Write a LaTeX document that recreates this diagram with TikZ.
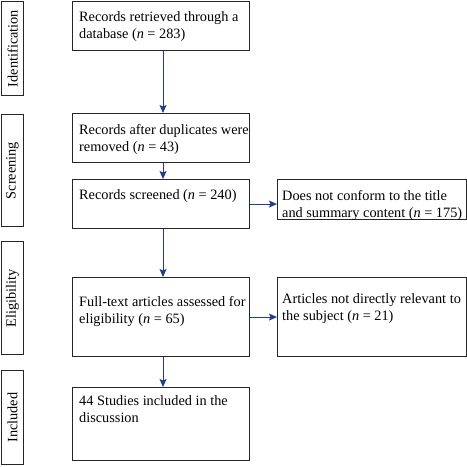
\documentclass[tikz,border=0pt]{standalone}
\usepackage{fontspec}
\setmainfont{Liberation Serif}
\usetikzlibrary{arrows.meta,calc}
\begin{document}
\begin{tikzpicture}[x=1pt,y=-1pt,
  box/.style={draw=black!85,line width=1.1pt,rectangle,inner sep=0pt,anchor=north west},
  side/.style={draw=black!85,line width=1.1pt,rectangle,inner sep=0pt,anchor=north west},
  txt/.style={anchor=base west,inner sep=0pt,align=left,font=\fontsize{14.3}{17}\selectfont},
  sidetxt/.style={rotate=90,inner sep=0pt,font=\fontsize{14.3}{17}\selectfont},
  arr/.style={draw={rgb,255:red,31;green,61;blue,140},line width=1pt,-{Stealth[length=8pt,width=7pt,inset=1.5pt]}}]
\useasboundingbox (0,0) rectangle (467,467);
% side boxes
\node[side,minimum width=22pt,minimum height=94pt] (s1) at (1,1) {};
\node[side,minimum width=22pt,minimum height=112pt] (s2) at (1,114) {};
\node[side,minimum width=22pt,minimum height=113pt] (s3) at (1,241) {};
\node[side,minimum width=22pt,minimum height=94pt] (s4) at (1,370) {};
\node[sidetxt] (l1) at (s1.center) {Identification};
\node[sidetxt] (l2) at (s2.center) {Screening};
\node[sidetxt] (l3) at (s3.center) {Eligibility};
\node[sidetxt] (l4) at (s4.center) {Included};
% main boxes
\node[box,minimum width=177pt,minimum height=49pt] (b1) at (72,1) {};
\node[box,minimum width=177pt,minimum height=49pt] (b2) at (72,113) {};
\node[box,minimum width=177pt,minimum height=49pt] (b3) at (72,179) {};
\node[box,minimum width=177pt,minimum height=79pt] (b4) at (72,277) {};
\node[box,minimum width=177pt,minimum height=73pt] (b5) at (72,387) {};
\node[box,minimum width=189pt,minimum height=40pt] (r1) at (277,179) {};
\node[box,minimum width=189pt,minimum height=79pt] (r2) at (277,277) {};
% texts (anchored at the baseline of the last line)
\node[txt] (t1) at (79,38) {Records retrieved through a\\database (\textit{n} = 283)};
\node[txt] (t2) at (79,151) {Records after duplicates were\\removed (\textit{n} = 43)};
\node[txt] (t3) at (79,199) {Records screened (\textit{n} = 240)};
\node[txt] (t4) at (79,323) {Full-text articles assessed for\\eligibility (\textit{n} = 65)};
\node[txt] (t5) at (79,422.5) {44 Studies included in the\\discussion};
\node[txt] (u1) at (282,217.5) {Does not conform to the title\\and summary content (\textit{n} = 175)};
\node[txt] (u2) at (282,320) {Articles not directly relevant to\\the subject (\textit{n} = 21)};
% arrows
\coordinate (ax) at (163,0);
\draw[arr] (b1.south -| ax) -- (b2.north -| ax);
\draw[arr] (b2.south -| ax) -- (b3.north -| ax);
\draw[arr] (b3.south -| ax) -- (b4.north -| ax);
\draw[arr] (b4.south -| ax) -- (b5.north -| ax);
\draw[arr] (b3.east) -- (b3.east -| r1.west);
\draw[arr] (b4.east) -- (b4.east -| r2.west);
\end{tikzpicture}
\end{document}
